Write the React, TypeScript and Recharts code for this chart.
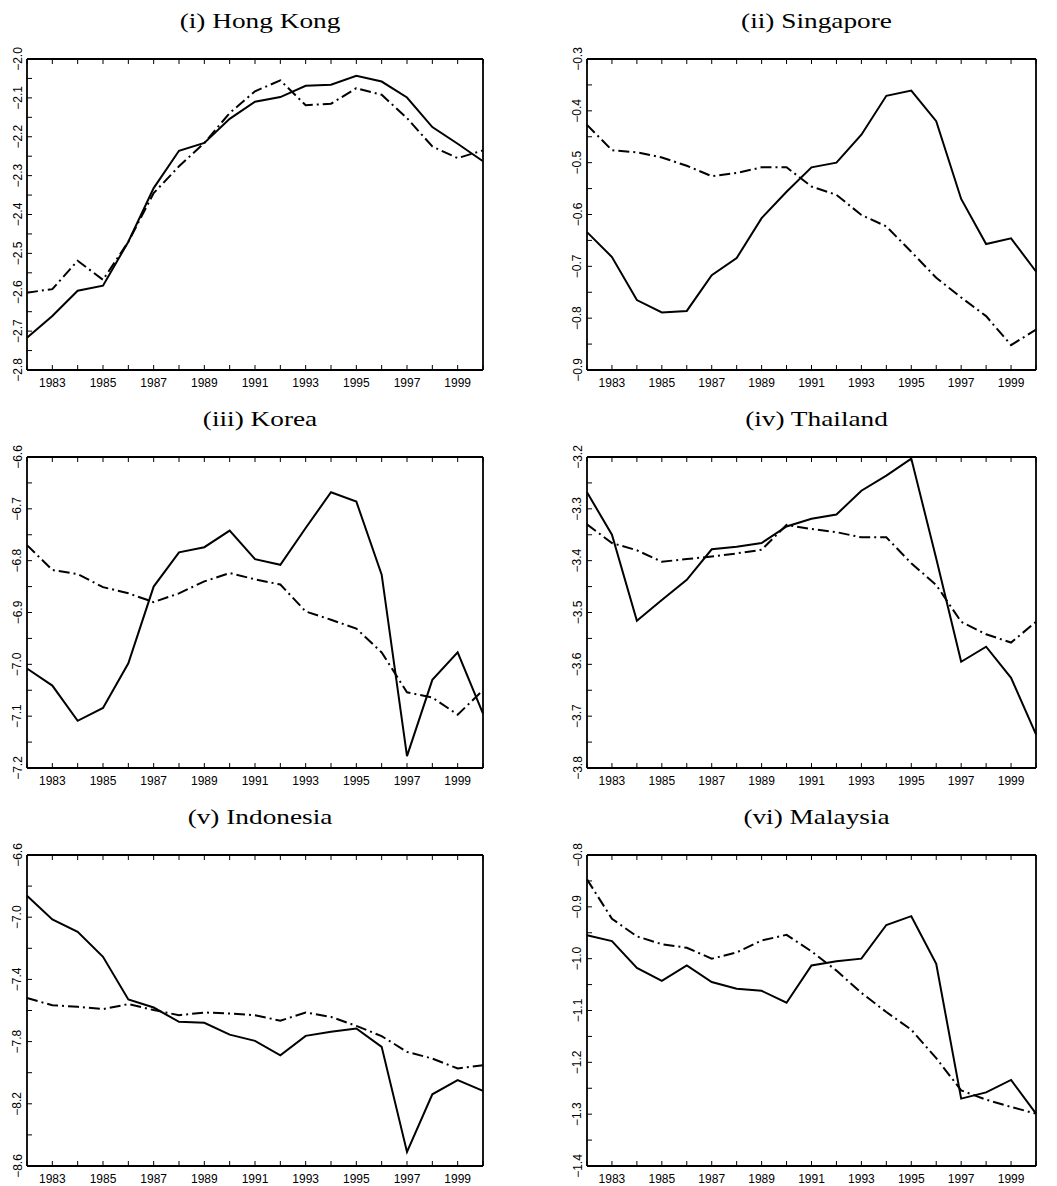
import React from "react";
import { LineChart, Line, XAxis, YAxis } from "recharts";

const years = [
  1982, 1983, 1984, 1985, 1986, 1987, 1988, 1989, 1990, 1991,
  1992, 1993, 1994, 1995, 1996, 1997, 1998, 1999, 2000,
];

const hongKongSolid = [-2.717, -2.661, -2.596, -2.583, -2.47, -2.332, -2.236, -2.216, -2.154, -2.11, -2.098, -2.069, -2.066, -2.043, -2.058, -2.099, -2.175, -2.218, -2.263];
const hongKongDashed = [-2.601, -2.592, -2.519, -2.568, -2.47, -2.345, -2.276, -2.216, -2.139, -2.083, -2.055, -2.119, -2.115, -2.075, -2.092, -2.152, -2.225, -2.255, -2.235];

const singaporeSolid = [-0.634, -0.682, -0.765, -0.789, -0.786, -0.717, -0.684, -0.607, -0.556, -0.509, -0.5, -0.446, -0.371, -0.361, -0.42, -0.57, -0.657, -0.646, -0.71];
const singaporeDashed = [-0.427, -0.476, -0.48, -0.49, -0.506, -0.526, -0.52, -0.509, -0.509, -0.546, -0.562, -0.601, -0.623, -0.672, -0.722, -0.76, -0.796, -0.852, -0.822];

const koreaSolid = [-7.008, -7.041, -7.109, -7.084, -6.998, -6.85, -6.784, -6.774, -6.742, -6.797, -6.808, -6.737, -6.668, -6.686, -6.827, -7.177, -7.03, -6.977, -7.095];
const koreaDashed = [-6.77, -6.818, -6.826, -6.851, -6.863, -6.88, -6.863, -6.84, -6.824, -6.836, -6.846, -6.898, -6.914, -6.931, -6.977, -7.054, -7.064, -7.097, -7.05];

const thailandSolid = [-3.268, -3.35, -3.516, -3.476, -3.437, -3.378, -3.373, -3.366, -3.334, -3.319, -3.311, -3.265, -3.236, -3.203, -3.396, -3.595, -3.566, -3.626, -3.735];
const thailandDashed = [-3.33, -3.366, -3.38, -3.402, -3.397, -3.392, -3.386, -3.379, -3.331, -3.339, -3.345, -3.355, -3.355, -3.405, -3.447, -3.518, -3.542, -3.558, -3.518];

const indonesiaSolid = [-6.862, -7.014, -7.094, -7.255, -7.529, -7.581, -7.673, -7.679, -7.755, -7.795, -7.888, -7.763, -7.737, -7.716, -7.834, -8.51, -8.139, -8.048, -8.117];
const indonesiaDashed = [-7.52, -7.566, -7.576, -7.591, -7.559, -7.597, -7.63, -7.613, -7.619, -7.63, -7.666, -7.613, -7.641, -7.699, -7.765, -7.866, -7.909, -7.973, -7.952];

const malaysiaSolid = [-0.955, -0.966, -1.018, -1.043, -1.013, -1.045, -1.058, -1.062, -1.085, -1.013, -1.005, -1.0, -0.935, -0.918, -1.01, -1.27, -1.258, -1.234, -1.299];
const malaysiaDashed = [-0.847, -0.923, -0.957, -0.972, -0.979, -1.0, -0.988, -0.965, -0.954, -0.986, -1.023, -1.066, -1.103, -1.137, -1.192, -1.254, -1.272, -1.286, -1.299];

// y range and minor tick step for each panel (labels on every other tick)
const panels = [
  { title: "(i) Hong Kong", solid: hongKongSolid, dashed: hongKongDashed, yMin: -2.8, yMax: -2.0, step: 0.05, col: 0, row: 0 },
  { title: "(ii) Singapore", solid: singaporeSolid, dashed: singaporeDashed, yMin: -0.9, yMax: -0.3, step: 0.05, col: 1, row: 0 },
  { title: "(iii) Korea", solid: koreaSolid, dashed: koreaDashed, yMin: -7.2, yMax: -6.6, step: 0.05, col: 0, row: 1 },
  { title: "(iv) Thailand", solid: thailandSolid, dashed: thailandDashed, yMin: -3.8, yMax: -3.2, step: 0.05, col: 1, row: 1 },
  { title: "(v) Indonesia", solid: indonesiaSolid, dashed: indonesiaDashed, yMin: -8.6, yMax: -6.6, step: 0.2, col: 0, row: 2 },
  { title: "(vi) Malaysia", solid: malaysiaSolid, dashed: malaysiaDashed, yMin: -1.4, yMax: -0.8, step: 0.05, col: 1, row: 2 },
];

const colX = [{ left: 27, width: 456 }, { left: 587, width: 449 }];
const rowY = [59, 457, 855];
const plotH = 311;
// outer space around the plot; axes take 1px of it each
const M = { top: 20, right: 10, bottom: 30, left: 40 };
const sans = "'Liberation Sans', Arial, sans-serif";

const fmt = (v: number) => v.toFixed(1).replace("-", "\u2212");

function makeTicks(min: number, max: number, step: number) {
  const n = Math.round((max - min) / step);
  const out: number[] = [];
  for (let i = 0; i <= n; i++) out.push(+(min + i * step).toFixed(3));
  return out;
}

function BottomTick(props: any) {
  const { x, y, payload } = props;
  const yr = payload.value;
  const showLabel = yr % 2 === 1;
  return (
    <g>
      <line x1={x} y1={y} x2={x} y2={y - 5} stroke="#000" strokeWidth={1} />
      {showLabel && (
        <text x={x} y={y + 16.5} textAnchor="middle" fontSize={12} fontFamily={sans} fill="#000">
          {yr}
        </text>
      )}
    </g>
  );
}

function TopTick(props: any) {
  const { x, y } = props;
  return <line x1={x} y1={y} x2={x} y2={y + 5} stroke="#000" strokeWidth={1} />;
}

function LeftTick(props: any) {
  const { x, y, payload, yMin, step } = props;
  const idx = Math.round((payload.value - yMin) / step);
  const lx = x - 9.5;
  return (
    <g>
      <line x1={x} y1={y} x2={x + 5} y2={y} stroke="#000" strokeWidth={1} />
      {idx % 2 === 0 && (
        <text
          x={lx}
          y={y}
          transform={`rotate(-90, ${lx}, ${y})`}
          textAnchor="middle"
          dominantBaseline="central"
          fontSize={12}
          fontFamily={sans}
          fill="#000"
        >
          {fmt(payload.value)}
        </text>
      )}
    </g>
  );
}

function RightTick(props: any) {
  const { x, y } = props;
  return <line x1={x} y1={y} x2={x - 5} y2={y} stroke="#000" strokeWidth={1} />;
}

function Panel({ p }: { p: (typeof panels)[number] }) {
  const { left, width } = colX[p.col];
  const top = rowY[p.row];
  const data = years.map((year, i) => ({ year, solid: p.solid[i], dashed: p.dashed[i] }));
  const yTicks = makeTicks(p.yMin, p.yMax, p.step);
  const axisLine = { stroke: "#000", strokeWidth: 1.8 };
  const margin = { top: M.top - 1, right: M.right - 1, bottom: M.bottom - 1, left: M.left - 1 };
  return (
    <div style={{ position: "absolute", left: left - M.left, top: top - M.top }}>
      <LineChart width={width + M.left + M.right} height={plotH + M.top + M.bottom} data={data} margin={margin}>
        <XAxis
          dataKey="year"
          type="number"
          domain={[1982, 2000]}
          ticks={years}
          interval={0}
          height={1}
          tickSize={0}
          tickMargin={0}
          tickLine={false}
          axisLine={axisLine}
          tick={(tp: any) => <BottomTick {...tp} />}
        />
        <XAxis
          xAxisId="top"
          orientation="top"
          dataKey="year"
          type="number"
          domain={[1982, 2000]}
          ticks={years}
          interval={0}
          height={1}
          tickSize={0}
          tickMargin={0}
          tickLine={false}
          axisLine={axisLine}
          tick={(tp: any) => <TopTick {...tp} />}
        />
        <YAxis
          type="number"
          domain={[p.yMin, p.yMax]}
          ticks={yTicks}
          interval={0}
          width={1}
          tickSize={0}
          tickMargin={0}
          tickLine={false}
          axisLine={axisLine}
          tick={(tp: any) => <LeftTick {...tp} yMin={p.yMin} step={p.step} />}
        />
        <YAxis
          yAxisId="r"
          orientation="right"
          type="number"
          domain={[p.yMin, p.yMax]}
          ticks={yTicks}
          interval={0}
          width={1}
          tickSize={0}
          tickMargin={0}
          tickLine={false}
          axisLine={axisLine}
          tick={(tp: any) => <RightTick {...tp} />}
        />
        <Line
          dataKey="solid"
          type="linear"
          stroke="#000"
          strokeWidth={2}
          dot={false}
          isAnimationActive={false}
        />
        <Line
          dataKey="dashed"
          type="linear"
          stroke="#000"
          strokeWidth={2}
          strokeDasharray="11 4 2 4"
          dot={false}
          isAnimationActive={false}
        />
      </LineChart>
    </div>
  );
}

export default function App() {
  return (
    <div style={{ position: "absolute", left: 0, top: 0, width: 1057, height: 1186, background: "#fff" }}>
      {panels.map((p) => (
        <Panel key={p.title} p={p} />
      ))}
      <svg width={1057} height={1186} style={{ position: "absolute", left: 0, top: 0, pointerEvents: "none" }}>
        {panels.map((p) => {
          const { left, width } = colX[p.col];
          const cx = left + width / 2 + 5;
          const by = rowY[p.row] - 31;
          return (
            <text
              key={p.title}
              x={0}
              y={0}
              textAnchor="middle"
              fontFamily="'Liberation Serif', 'Times New Roman', serif"
              fontSize={21}
              fill="#000"
              transform={`translate(${cx}, ${by}) scale(1.3, 1)`}
            >
              {p.title}
            </text>
          );
        })}
      </svg>
    </div>
  );
}
